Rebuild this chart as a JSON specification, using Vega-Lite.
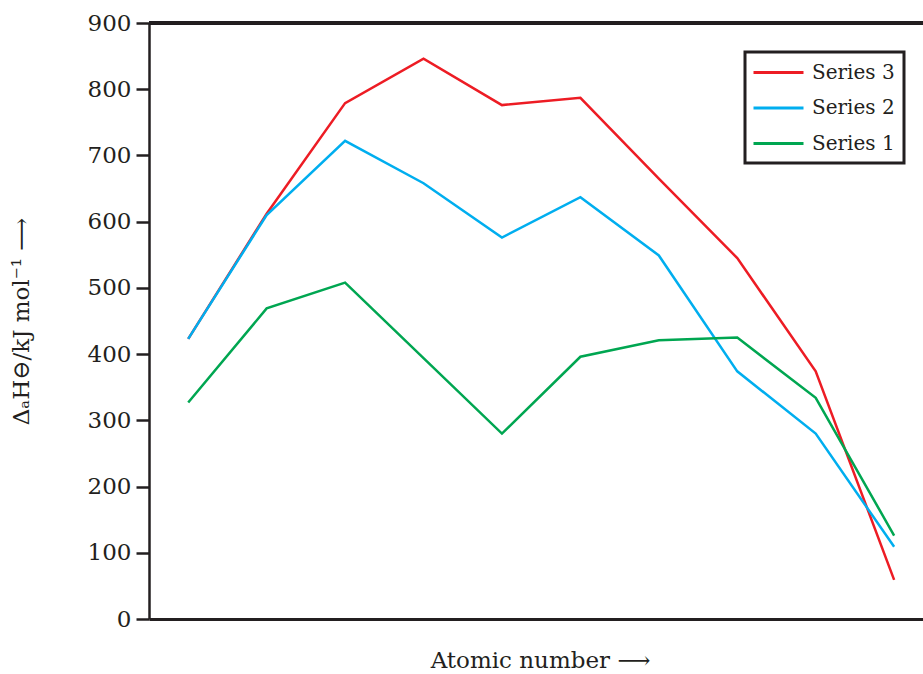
{
  "$schema": "https://vega.github.io/schema/vega-lite/v6.json",
  "width": 774,
  "height": 596,
  "autosize": {"type": "none"},
  "padding": {"left": 149, "top": 23, "right": 0, "bottom": 55},
  "background": "white",
  "config": {
    "view": {"stroke": null},
    "font": "DejaVu Serif"
  },
  "data": {
    "values": [
      {"n": 1, "series": "Series 3", "value": 423},
      {"n": 2, "series": "Series 3", "value": 612},
      {"n": 3, "series": "Series 3", "value": 779},
      {"n": 4, "series": "Series 3", "value": 846},
      {"n": 5, "series": "Series 3", "value": 776},
      {"n": 6, "series": "Series 3", "value": 787},
      {"n": 7, "series": "Series 3", "value": 665},
      {"n": 8, "series": "Series 3", "value": 545},
      {"n": 9, "series": "Series 3", "value": 374},
      {"n": 10, "series": "Series 3", "value": 59},
      {"n": 1, "series": "Series 2", "value": 423},
      {"n": 2, "series": "Series 2", "value": 610},
      {"n": 3, "series": "Series 2", "value": 722},
      {"n": 4, "series": "Series 2", "value": 658},
      {"n": 5, "series": "Series 2", "value": 576},
      {"n": 6, "series": "Series 2", "value": 637},
      {"n": 7, "series": "Series 2", "value": 549},
      {"n": 8, "series": "Series 2", "value": 374},
      {"n": 9, "series": "Series 2", "value": 280},
      {"n": 10, "series": "Series 2", "value": 109},
      {"n": 1, "series": "Series 1", "value": 327},
      {"n": 2, "series": "Series 1", "value": 469},
      {"n": 3, "series": "Series 1", "value": 508},
      {"n": 4, "series": "Series 1", "value": 394},
      {"n": 5, "series": "Series 1", "value": 280},
      {"n": 6, "series": "Series 1", "value": 396},
      {"n": 7, "series": "Series 1", "value": 421},
      {"n": 8, "series": "Series 1", "value": 425},
      {"n": 9, "series": "Series 1", "value": 334},
      {"n": 10, "series": "Series 1", "value": 126}
    ]
  },
  "layer": [
    {
      "mark": {"type": "rule", "color": "#231f20", "strokeWidth": 2.5},
      "encoding": {"y": {"datum": 900, "type": "quantitative"}}
    },
    {
      "mark": {"type": "line", "strokeWidth": 2.5},
      "encoding": {
        "x": {
          "field": "n",
          "type": "quantitative",
          "scale": {"domain": [0.5, 10.368], "nice": false, "zero": false},
          "axis": {
            "title": "Atomic number ⟶",
            "labels": false,
            "ticks": false,
            "grid": false,
            "domainColor": "#231f20",
            "domainWidth": 3,
            "titleFont": "DejaVu Serif",
            "titleFontSize": 23,
            "titleFontWeight": "normal",
            "titleColor": "#231f20",
            "titlePadding": 30,
            "titleX": 391
          }
        },
        "y": {
          "field": "value",
          "type": "quantitative",
          "scale": {"domain": [0, 900], "nice": false},
          "axis": {
            "title": "ΔₐH⊖/kJ mol⁻¹ ⟶",
            "values": [0, 100, 200, 300, 400, 500, 600, 700, 800, 900],
            "grid": false,
            "tickSize": 13,
            "tickWidth": 2.5,
            "tickColor": "#231f20",
            "domainColor": "#231f20",
            "domainWidth": 2.5,
            "labelFont": "DejaVu Serif",
            "labelFontSize": 23,
            "labelColor": "#231f20",
            "labelPadding": 5,
            "titleFont": "DejaVu Serif",
            "titleFontSize": 23,
            "titleFontWeight": "normal",
            "titleColor": "#231f20",
            "titlePadding": 54
          }
        },
        "color": {
          "field": "series",
          "type": "nominal",
          "scale": {
            "domain": ["Series 3", "Series 2", "Series 1"],
            "range": ["#ED1C24", "#00AEEF", "#00A651"]
          },
          "legend": {
            "title": null,
            "orient": "none",
            "legendX": 596,
            "legendY": 29,
            "symbolType": "M-2.5,0H2.5",
            "symbolSize": 400,
            "symbolStrokeWidth": 3,
            "symbolOffset": 13,
            "labelFont": "DejaVu Serif",
            "labelFontSize": 20,
            "labelColor": "#231f20",
            "rowPadding": 13.5,
            "padding": 9,
            "strokeColor": "#231f20",
            "fillColor": "white",
            "labelOffset": 22,
            "encode": {"legend": {"update": {"strokeWidth": {"value": 3}}}}
          }
        }
      }
    }
  ]
}
